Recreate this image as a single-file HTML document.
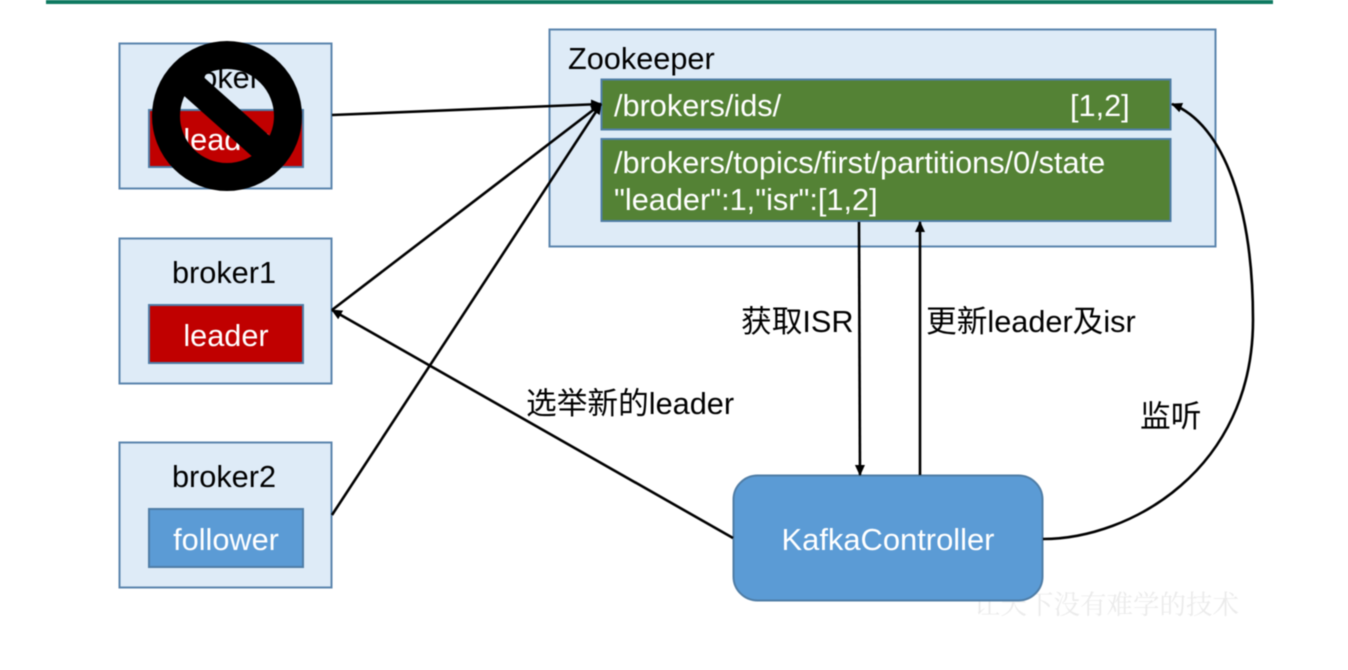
<!DOCTYPE html>
<html><head><meta charset="utf-8"><style>
html,body{margin:0;padding:0;background:#fff;width:1348px;height:670px;overflow:hidden}
svg{display:block;filter:blur(.5px)}
text{font-family:"Liberation Sans","Noto Sans CJK SC",sans-serif;font-size:30.7px;fill:#000}
.w{fill:#fff}
.b{fill:#deebf7;stroke:#5b85ad;stroke-width:2}
.g{fill:#548235;stroke:#4f7da6;stroke-width:2}
.r{fill:#c00000;stroke:#4f7da6;stroke-width:2}
.l{stroke:#000;stroke-width:2.6;fill:none}
</style></head><body>
<svg width="1348" height="670" viewBox="0 0 1348 670" xmlns="http://www.w3.org/2000/svg">
<defs><marker id="a" markerWidth="12" markerHeight="10" refX="10" refY="5" orient="auto" markerUnits="userSpaceOnUse"><path d="M0 0L11 5L0 10Z" fill="#000"/></marker></defs>
<rect x="46" y="0" width="1227" height="4" fill="#0f7a62"/>

<rect class="b" x="119.500" y="43.500" width="212" height="145"/>
<text x="225" y="88" text-anchor="middle">broker0</text>
<rect class="r" x="149" y="110" width="154" height="57"/>
<text class="w" x="226" y="150" text-anchor="middle">leader</text>
<circle cx="227" cy="116" r="61" fill="none" stroke="#000" stroke-width="28"/>
<line x1="181" y1="75" x2="273" y2="157" stroke="#000" stroke-width="27"/>

<rect class="b" x="119.500" y="238.500" width="212" height="145"/>
<text x="224" y="283" text-anchor="middle">broker1</text>
<rect class="r" x="149" y="305" width="154" height="58"/>
<text class="w" x="226" y="346" text-anchor="middle">leader</text>

<rect class="b" x="119.500" y="442.500" width="212" height="145"/>
<text x="224" y="487" text-anchor="middle">broker2</text>
<rect x="149" y="509" width="154" height="58" fill="#5b9bd5" stroke="#4f7da6" stroke-width="2"/>
<text class="w" x="226" y="550" text-anchor="middle">follower</text>

<rect class="b" x="549.500" y="29.500" width="666" height="217"/>
<text x="568" y="69">Zookeeper</text>
<rect class="g" x="601.500" y="79.500" width="569" height="50"/>
<text class="w" x="614" y="116">/brokers/ids/</text>
<text class="w" x="1070" y="116">[1,2]</text>
<rect class="g" x="601.500" y="139" width="569" height="82"/>
<text class="w" x="614" y="173">/brokers/topics/first/partitions/0/state</text>
<text class="w" x="614" y="210">"leader":1,"isr":[1,2]</text>

<text x="974" y="614" style="font-size:26.500px;fill:#ebebeb;font-family:'Noto Serif CJK SC',serif">让天下没有难学的技术</text>
<rect x="733.500" y="475.500" width="309" height="125" rx="24" fill="#5b9bd5" stroke="#4f7da6" stroke-width="2"/>
<text class="w" x="888" y="550" text-anchor="middle" style="font-size:30.9px">KafkaController</text>

<line class="l" x1="332" y1="115" x2="601" y2="104" marker-end="url(#a)"/>
<line class="l" x1="332" y1="310" x2="601" y2="104" marker-end="url(#a)"/>
<line class="l" x1="332" y1="515" x2="601" y2="104" marker-end="url(#a)"/>
<line class="l" x1="733" y1="538" x2="332" y2="310" marker-end="url(#a)"/>
<line class="l" x1="859" y1="222" x2="860" y2="475" marker-end="url(#a)"/>
<line class="l" x1="920" y1="475" x2="920" y2="222" marker-end="url(#a)"/>
<path class="l" d="M1043 539C1130 539 1253 470 1253 320C1253 210 1225 125 1172 104" marker-end="url(#a)"/>

<text x="741" y="332">获取ISR</text>
<text x="926" y="332">更新leader及isr</text>
<text x="526" y="414">选举新的leader</text>
<text x="1140" y="427">监听</text>
</svg>
</body></html>
